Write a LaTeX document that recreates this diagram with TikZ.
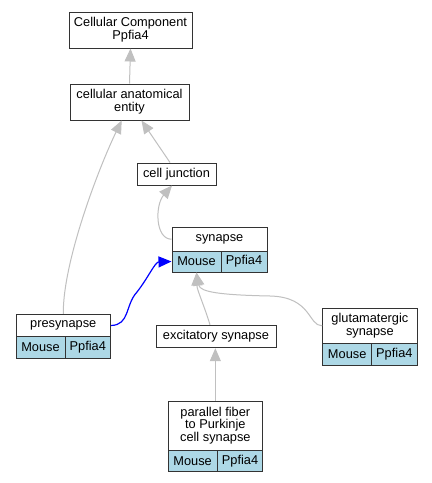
\documentclass[tikz,border=0pt]{standalone}
\usepackage{fontspec}
\setmainfont{Liberation Sans}
\usetikzlibrary{arrows.meta}
\definecolor{cellblue}{RGB}{173,216,230}
\definecolor{edgegray}{RGB}{192,192,192}
\definecolor{boxline}{RGB}{51,51,51}
\begin{document}
\begin{tikzpicture}[x=1pt,y=-1pt,
  term/.style={draw=boxline,line width=1pt,fill=white,inner sep=0pt,align=center,
    font=\fontsize{12.8}{12.8}\selectfont},
  cell/.style={term,fill=cellblue},
  isa/.style={draw=edgegray,line width=1pt,-{Triangle[length=13pt,width=11pt]}},
  blue edge/.style={draw=blue,line width=1.2pt,-{Triangle[length=13pt,width=11pt]}}]
\useasboundingbox [fill=white] (0,0) rectangle (432,483);
\node [term,minimum width=123pt,minimum height=36pt] (cc) at (130.5,30) {Cellular Component\\Ppfia4};
\node [term,minimum width=119pt,minimum height=36pt] (cae) at (129.5,102) {cellular anatomical\\entity};
\node [term,minimum width=79pt,minimum height=22pt] (cj) at (176.5,174) {cell junction};
\node [term,minimum width=95pt,minimum height=23.5pt] (syn) at (219.5,239.25) {synapse};
\node [cell,minimum width=49pt,minimum height=21pt] (syn-m) at (196.5,261.5) {Mouse};
\node [cell,minimum width=46pt,minimum height=21pt] (syn-p) at (244,261.5) {Ppfia4};
\node [term,minimum width=94.5pt,minimum height=22.4pt] (pre) at (63.25,325.5) {presynapse};
\node [cell,minimum width=49pt,minimum height=21.6pt] (pre-m) at (40.5,347.5) {Mouse};
\node [cell,minimum width=45.5pt,minimum height=21.6pt] (pre-p) at (87.75,347.5) {Ppfia4};
\node [term,minimum width=120pt,minimum height=22.4pt] (exc) at (216,336.5) {excitatory synapse};
\node [term,minimum width=94.3pt,minimum height=35pt] (glu) at (369.85,325.8) {glutamatergic\\synapse};
\node [cell,minimum width=49pt,minimum height=21.7pt] (glu-m) at (347.2,354.15) {Mouse};
\node [cell,minimum width=45.3pt,minimum height=21.7pt] (glu-p) at (394.35,354.15) {Ppfia4};
\node [term,minimum width=94.7pt,minimum height=49pt] (pf) at (215.35,425.5) {parallel fiber\\to Purkinje\\cell synapse};
\node [cell,minimum width=49.3pt,minimum height=21.7pt] (pf-m) at (192.65,460.85) {Mouse};
\node [cell,minimum width=45.4pt,minimum height=21.7pt] (pf-p) at (240,460.85) {Ppfia4};
\draw [isa] (cae.north) -- (cc.south);
\draw [isa] ([xshift=-6.5pt]cj.north) -- ([xshift=12pt]cae.south);
\draw [isa] (syn.west) .. controls (155,239) and (155,205) .. ([xshift=-4.5pt]cj.south);
\draw [isa] (pre.north) .. controls (63,260) and (100,165) .. ([xshift=-7.8pt]cae.south);
\draw [isa] (glu.west) .. controls (308,326) and (312,297) .. (270,296) .. controls (220,295) and (200,292) .. (syn-m.south);
\draw [isa] ([xshift=-6pt]exc.north) .. controls (204,305) and (197,290) .. (syn-m.south);
\draw [isa] (pf.north) -- (pf.north |- exc.south);
\draw [blue edge] (pre.east) .. controls (130,325) and (125,305) .. (137,292) .. controls (148,278) and (155,262) .. (syn-m.west);
\end{tikzpicture}
\end{document}
